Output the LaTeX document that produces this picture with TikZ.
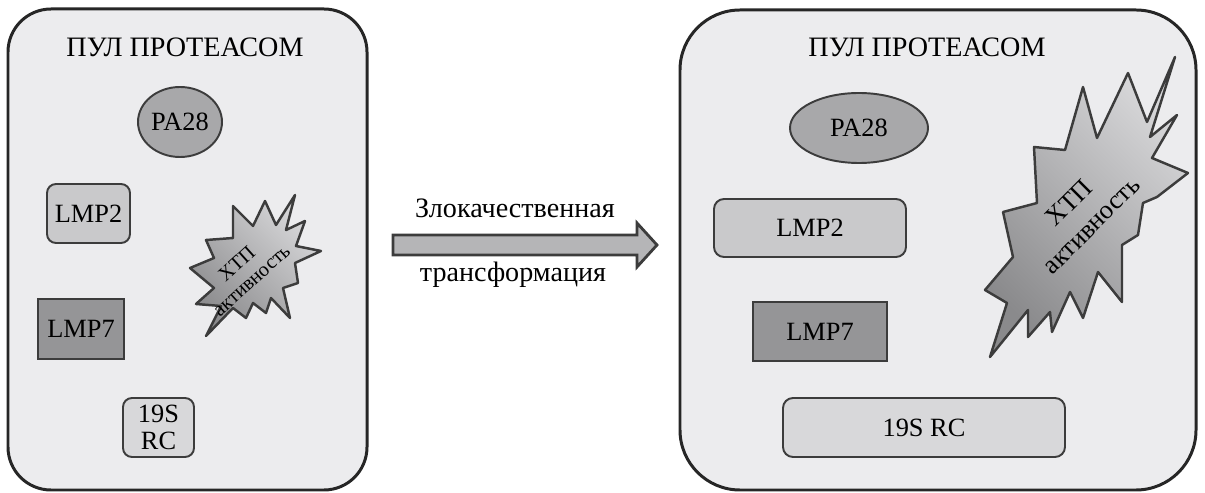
\documentclass[tikz,border=0pt]{standalone}
\usepackage{fontspec}
\setmainfont{Liberation Serif}
\newfontfamily\tnr{Liberation Serif}
\usetikzlibrary{shapes.geometric}

\definecolor{poolfill}{HTML}{ECECEE}
\definecolor{ovalfill}{HTML}{A8A8AA}
\definecolor{lmpfill}{HTML}{C9C9CB}
\definecolor{darkfill}{HTML}{959597}
\definecolor{rcfill}{HTML}{D8D8DA}
\definecolor{arrfill}{HTML}{B5B5B7}
\definecolor{burstlight}{HTML}{D8D8DA}
\definecolor{burstdark}{HTML}{8A8A8C}
\definecolor{edge}{HTML}{3C3C3C}

\begin{document}
\begin{tikzpicture}[
        x=0.2mm, y=-0.2mm, % координаты в пикселях, ось y вниз
        pool/.style = {draw=black!85, line width=1.7pt, fill=poolfill}, % пул протеасом
        title/.style = {font=\tnr\fontsize{16}{19}\selectfont},
        part/.style = {draw=edge, line width=1.1pt, inner sep=0pt, align=center, font=\tnr\fontsize{15}{17}\selectfont},
        oval/.style = {part, ellipse, fill=ovalfill},
        rbox/.style = {part, rectangle, rounded corners=1.8mm, fill=lmpfill},
        sbox/.style = {part, rectangle, fill=darkfill},
        rcbox/.style = {part, rectangle, rounded corners=1.8mm, fill=rcfill},
        burst/.style = {draw=edge, line width=1.4pt, line join=round, top color=burstlight, bottom color=burstdark, shading angle=-45},
        xtp/.style = {align=center, inner sep=0pt},
        trarrow/.style = {draw=edge, line width=1.6pt, line join=miter, fill=arrfill},
        lbl/.style = {font=\tnr\fontsize{16}{19}\selectfont}, % подписи у стрелки
    ]

    \useasboundingbox (0,0) rectangle (1205,493);

    % левый пул
    \node[pool, rounded corners=8.6mm, minimum width=71.8mm, minimum height=96.2mm] (poolL) at (187.5,249.5) {};
    \node[title] (titleL) at (185,47) {ПУЛ ПРОТЕАСОМ};
    \node[oval, minimum width=16.8mm, minimum height=14mm] (pa28L) at (180,122) {PA28};
    \node[rbox, minimum width=16.6mm, minimum height=11.8mm] (lmp2L) at (88.5,213.5) {LMP2};
    \node[sbox, minimum width=17.2mm, minimum height=12mm] (lmp7L) at (81,329) {LMP7};
    \node[rcbox, minimum width=14.2mm, minimum height=11.8mm] (rcL) at (158.5,427.5) {19S\\[-2pt]RC};
    \shade[burst] (295,195) -- (286,230) -- (305,221) -- (296,246) -- (321,251) -- (295,263)
        -- (298,283) -- (283,288) -- (290,318) -- (271,298) -- (266,313) -- (253,303)
        -- (246,318) -- (233,308) -- (206,336) -- (221,306) -- (196,304) -- (214,288)
        -- (190,268) -- (214,258) -- (206,240) -- (233,238) -- (233,206) -- (253,226)
        -- (265,201) -- (276,225) -- cycle;
    \node[xtp, rotate=42, font=\tnr\fontsize{11.5}{12.5}\selectfont] (xtpL) at (244,272) {ХТП\\активность};

    % стрелка перехода
    \filldraw[trarrow] (393,235) -- (637,235) -- (637,223) -- (657,245) -- (637,267) -- (637,255) -- (393,255) -- cycle;
    \node[lbl] (lblTop) at (515,208) {Злокачественная};
    \node[lbl] (lblBot) at (513,275) {трансформация};

    % правый пул
    \node[pool, rounded corners=12mm, minimum width=103.2mm, minimum height=96mm] (poolR) at (938,250) {};
    \node[title] (titleR) at (927,47) {ПУЛ ПРОТЕАСОМ};
    \node[oval, minimum width=27.6mm, minimum height=14mm] (pa28R) at (859,128) {PA28};
    \node[rbox, rounded corners=2mm, minimum width=38.4mm, minimum height=11.6mm] (lmp2R) at (810,228) {LMP2};
    \node[sbox, minimum width=26.8mm, minimum height=11.8mm] (lmp7R) at (820,331.5) {LMP7};
    \node[rcbox, rounded corners=2mm, minimum width=56.4mm, minimum height=11.8mm] (rcR) at (924,427.5) {19S RC};
    \shade[burst] (1083,87) -- (1097,138) -- (1128,73) -- (1147,122) -- (1175,57) -- (1150,137)
        -- (1177,115) -- (1152,158) -- (1188,173) -- (1157,197) -- (1143,203) -- (1138,235)
        -- (1122,245) -- (1122,302) -- (1098,272) -- (1083,318) -- (1070,292) -- (1052,332)
        -- (1050,312) -- (1028,337) -- (1028,310) -- (990,357) -- (1007,303) -- (985,290)
        -- (1013,257) -- (1003,212) -- (1037,203) -- (1034,147) -- (1065,150) -- cycle;
    \node[xtp, rotate=45, font=\tnr\fontsize{15}{18}\selectfont] (xtpR) at (1080,214) {ХТП\\активность};
\end{tikzpicture}
\end{document}
